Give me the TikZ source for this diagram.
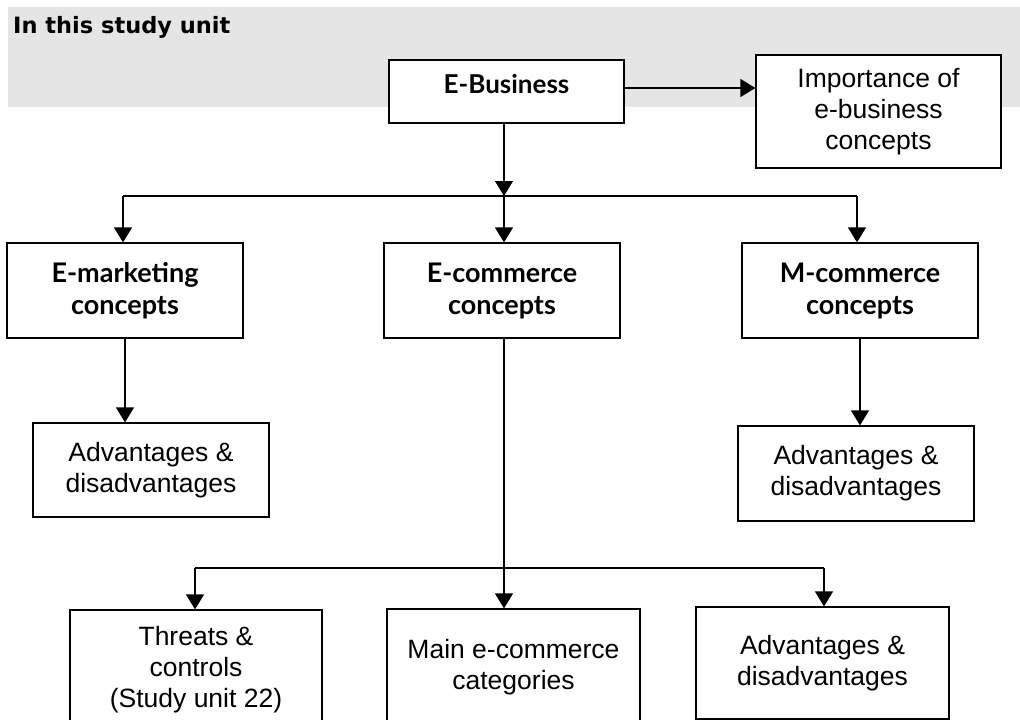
\documentclass[tikz,border=0pt]{standalone}
\usepackage{fontspec}
\setmainfont{Liberation Sans}
\newfontfamily\gill{Lato}
\newfontfamily\headfont{DejaVu Sans}
\usetikzlibrary{arrows.meta}
\definecolor{bandgray}{HTML}{E5E5E5}
\begin{document}
\begin{tikzpicture}[x=1pt,y=-1pt,
  box/.style={draw=black,line width=1.2pt,fill=white,rectangle,inner sep=0pt,align=center,
    font={\fontsize{26.5}{31}\selectfont}},
  bbox/.style={box,font={\gill\bfseries\fontsize{27}{32}\selectfont}},
  arr/.style={-{Triangle[width=18pt,length=15pt]},line width=1.2pt},
  ln/.style={line width=1.2pt}]
\path[use as bounding box] (0,0) rectangle (1020,720);
\clip (0,0) rectangle (1020,720);
\fill[bandgray] (8,7) rectangle (1020,107);
\node[anchor=base west,inner sep=0pt,font={\headfont\bfseries\fontsize{22.5}{27}\selectfont}] (title) at (13,33) {In this study unit};

\node[bbox,minimum width=235pt,minimum height=63pt,text height=18pt,text depth=15pt,font={\gill\bfseries\fontsize{26}{32}\selectfont}] (eb) at (506.5,91.5) {E-Business};
\node[box,minimum width=245pt,minimum height=113pt] (imp) at (878.5,111.5) {Importance of\\e-business\\concepts};
\node[bbox,minimum width=236pt,minimum height=95pt] (em) at (125,290.5) {E-marketing\\concepts};
\node[bbox,minimum width=236pt,minimum height=95pt] (ec) at (502,290.5) {E-commerce\\concepts};
\node[bbox,minimum width=236pt,minimum height=95pt] (mc) at (860,290.5) {M-commerce\\concepts};
\node[box,minimum width=236pt,minimum height=94pt] (a1) at (151,470) {Advantages \&\\disadvantages};
\node[box,minimum width=236pt,minimum height=95pt] (a2) at (856,473.5) {Advantages \&\\disadvantages};
\node[box,minimum width=252pt,minimum height=120pt] (th) at (196,670) {Threats \&\\controls\\(Study unit 22)};
\node[box,minimum width=253pt,minimum height=117pt] (main) at (513.5,667.5) {Main e-commerce\\categories};
\node[box,minimum width=253pt,minimum height=112pt] (a3) at (822.5,663) {Advantages \&\\disadvantages};

\coordinate (busL) at (123,196);
\coordinate (busM) at (504,196);
\coordinate (busR) at (857,196);
\coordinate (b2L) at (195,568);
\coordinate (b2M) at (504,568);
\coordinate (b2R) at (824,568);

\draw[arr] ([yshift=3.5pt]eb.east) -- ([yshift=3.5pt]eb.east -| imp.west);
\draw[arr] (eb.south -| busM) -- (busM);
\draw[ln] (busL) -- (busR);
\draw[arr] (busL) -- (busL |- em.north);
\draw[arr] (busM) -- (busM |- ec.north);
\draw[arr] (busR) -- (busR |- mc.north);
\draw[arr] (em.south) -- (em.south |- a1.north);
\draw[arr] (mc.south) -- (mc.south |- a2.north);
\draw[arr] (ec.south -| b2M) -- (b2M |- main.north);
\draw[ln] (b2L) -- (b2R);
\draw[arr] (b2L) -- (b2L |- th.north);
\draw[arr] (b2R) -- (b2R |- a3.north);
\end{tikzpicture}
\end{document}
